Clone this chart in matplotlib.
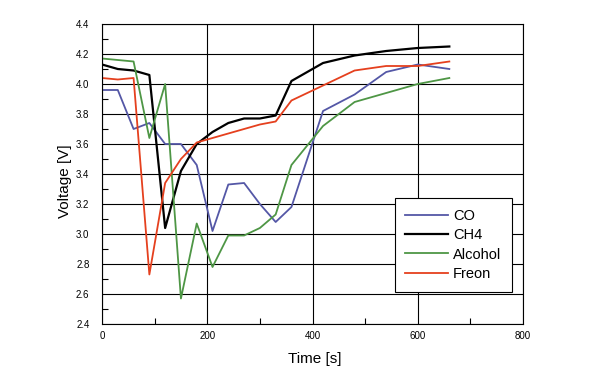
import matplotlib
matplotlib.use("Agg")
import matplotlib.pyplot as plt
from matplotlib.ticker import MultipleLocator

# sample times [s]
time_s = [0, 30, 60, 90, 120, 150, 180, 210, 240, 270, 300, 330, 360,
          420, 480, 540, 600, 660]

co = [3.96, 3.96, 3.70, 3.74, 3.60, 3.60, 3.46, 3.02, 3.33, 3.34, 3.20, 3.08, 3.18,
      3.82, 3.93, 4.08, 4.13, 4.10]
ch4 = [4.13, 4.10, 4.09, 4.06, 3.04, 3.42, 3.60, 3.68, 3.74, 3.77, 3.77, 3.79, 4.02,
       4.14, 4.19, 4.22, 4.24, 4.25]
alcohol = [4.17, 4.16, 4.15, 3.64, 4.00, 2.57, 3.07, 2.78, 2.99, 2.99, 3.04, 3.13, 3.46,
           3.72, 3.88, 3.94, 4.00, 4.04]
freon = [4.04, 4.03, 4.04, 2.73, 3.34, 3.50, 3.61, 3.64, 3.67, 3.70, 3.73, 3.75, 3.89,
         3.99, 4.09, 4.12, 4.12, 4.15]

SERIES = [
    ("CO", co, "#5457A6", 1.3),
    ("CH4", ch4, "#000000", 1.6),
    ("Alcohol", alcohol, "#4E9645", 1.3),
    ("Freon", freon, "#E5401E", 1.3),
]

plt.rcParams["font.family"] = ["Liberation Sans", "DejaVu Sans"]

fig = plt.figure(figsize=(5.97, 3.82), dpi=100)
ax = fig.add_axes([102 / 597, 1 - 324 / 382, 421 / 597, 300 / 382])

for name, values, color, lw in SERIES:
    ax.plot(time_s, values, color=color, linewidth=lw, label=name)

ax.set_xlim(0, 800)
ax.set_ylim(2.4, 4.4)
ax.xaxis.set_major_locator(MultipleLocator(200))
ax.xaxis.set_minor_locator(MultipleLocator(100))
ax.yaxis.set_major_locator(MultipleLocator(0.2))
ax.yaxis.set_minor_locator(MultipleLocator(0.1))
ax.yaxis.set_major_formatter(matplotlib.ticker.FormatStrFormatter("%.1f"))

ax.grid(which="major", color="black", linewidth=0.8)
ax.set_axisbelow(True)
for side in ax.spines.values():
    side.set_linewidth(0.8)
ax.tick_params(which="both", direction="in", top=False, right=False)
ax.tick_params(which="major", length=0, labelsize=7)
ax.tick_params(axis="y", which="major", pad=9)
ax.tick_params(axis="x", which="major", pad=5)
ax.tick_params(which="minor", length=4, width=0.8)

ax.set_xlabel("Time [s]", fontsize=11)
ax.set_ylabel("Voltage [V]", fontsize=11)
ax.xaxis.set_label_coords(0.505, -0.093)
ax.yaxis.set_label_coords(-0.071, 0.475)

leg = ax.legend(loc="lower right", bbox_to_anchor=(0.974, 0.107), fontsize=10.5,
                frameon=True, fancybox=False, framealpha=1, edgecolor="black",
                borderaxespad=0, handlelength=2.9, handletextpad=0.35,
                borderpad=0.75, labelspacing=0.37)
leg.get_frame().set_linewidth(0.8)

fig.savefig("out.png", dpi=100)
